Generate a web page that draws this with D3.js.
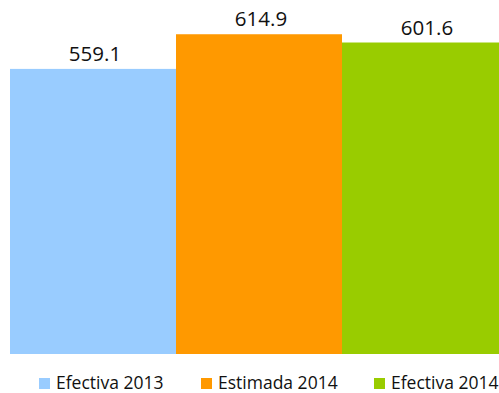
<!DOCTYPE html>
<html>
<head>
<meta charset="utf-8">
<script src="https://d3js.org/d3.v7.min.js"></script>
<style>
  body { margin: 0; background: #fff; }
  svg { display: block; }
</style>
</head>
<body>
<div id="vis"></div>
<script>
// data
var categories = ["Efectiva 2013", "Estimada 2014", "Efectiva 2014"];
var values = [559.1, 614.9, 601.6];
var colors = ["#99CCFF", "#FF9900", "#99CC00"];
var legendX = [39, 201, 374];

var width = 499, height = 393;
var baseline = 354;

var svg = d3.select("#vis").append("svg")
    .attr("width", width)
    .attr("height", height);

// bars run past the right edge in the original, band range goes to 508
var x = d3.scaleBand().domain(categories).range([10, 508]).padding(0);
// value axis does not start at zero
var y = d3.scaleLinear().domain([100, 650]).range([baseline, baseline - 550 * 0.621]);

svg.selectAll("rect.bar")
    .data(values)
    .enter().append("rect")
    .attr("class", "bar")
    .attr("x", function(d, i) { return x(categories[i]); })
    .attr("y", function(d) { return y(d); })
    .attr("width", x.bandwidth())
    .attr("height", function(d) { return baseline - y(d); })
    .attr("fill", function(d, i) { return colors[i]; });

svg.selectAll("text.val")
    .data(values)
    .enter().append("text")
    .attr("class", "val")
    .attr("x", function(d, i) { return x(categories[i]) + x.bandwidth() / 2 + 2; })
    .attr("y", function(d) { return y(d) - 8; })
    .attr("text-anchor", "middle")
    .attr("font-family", "Open Sans, sans-serif")
    .attr("font-size", "20.5px")
    .attr("fill", "#111")
    .text(function(d) { return d3.format(".1f")(d); });

// legend
var leg = svg.selectAll("g.leg")
    .data(categories)
    .enter().append("g")
    .attr("class", "leg")
    .attr("transform", function(d, i) { return "translate(" + legendX[i] + ",378)"; });

leg.append("rect")
    .attr("width", 11)
    .attr("height", 11)
    .attr("fill", function(d, i) { return colors[i]; });

leg.append("text")
    .attr("x", 17)
    .attr("y", 11)
    .attr("font-family", "Open Sans, sans-serif")
    .attr("font-size", "17.5px")
    .attr("fill", "#111")
    .text(function(d) { return d; });
</script>
</body>
</html>
